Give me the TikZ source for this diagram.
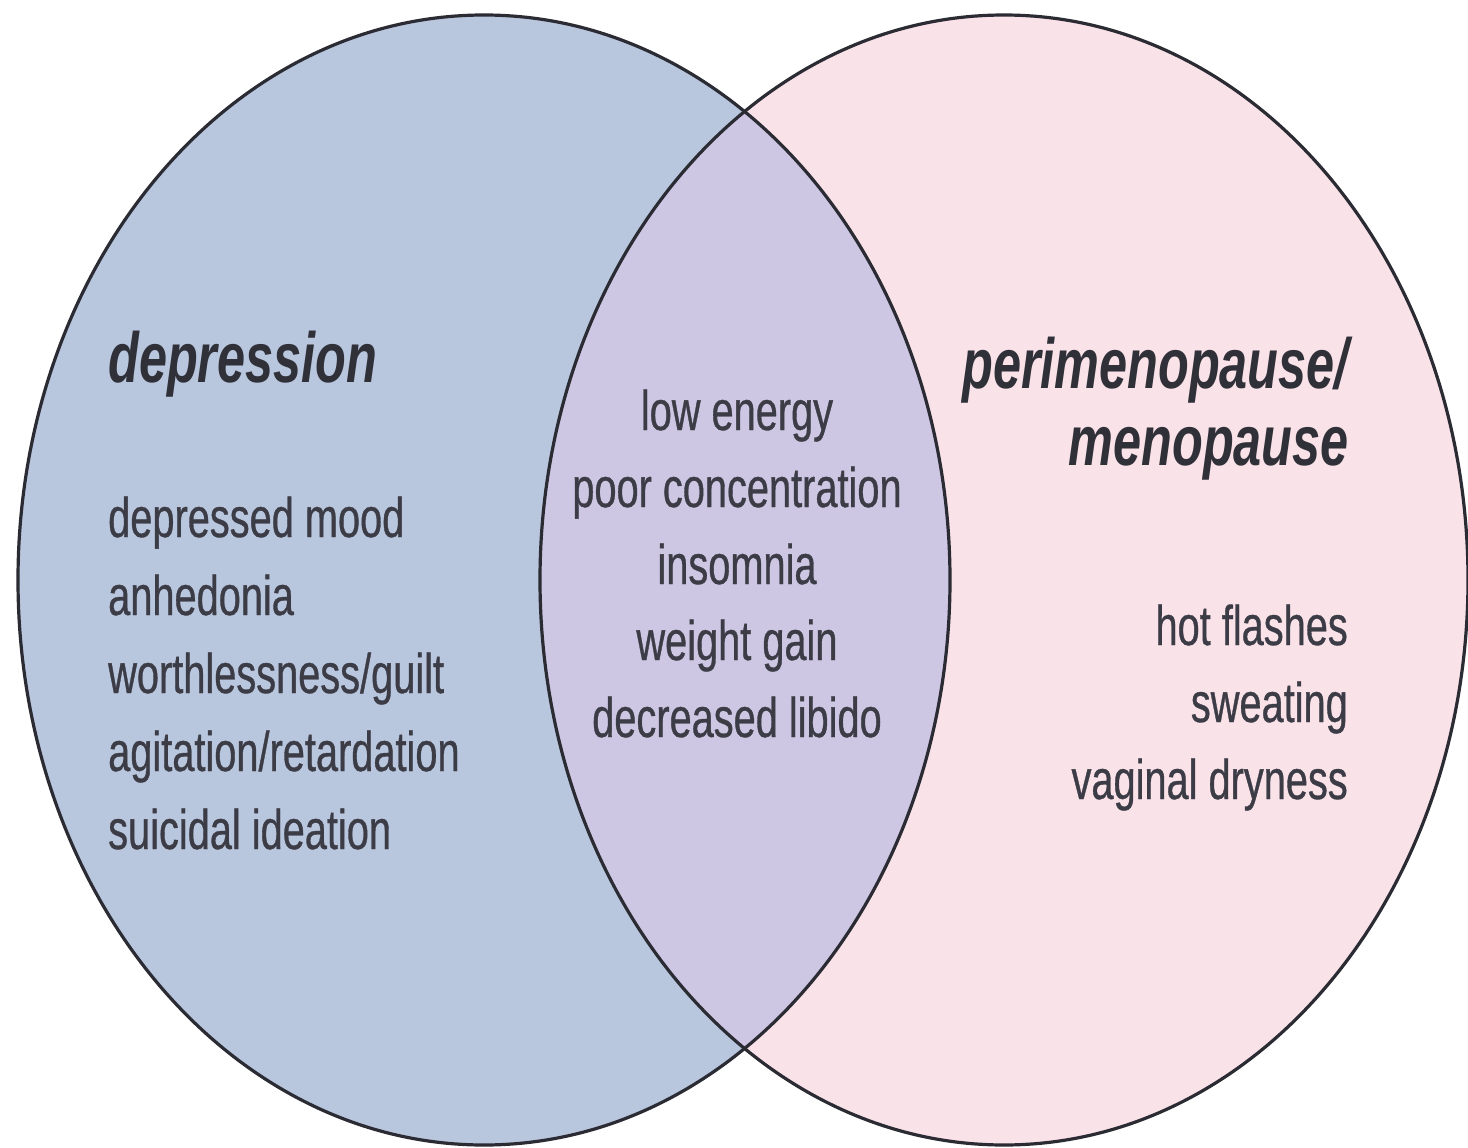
\documentclass[tikz,border=0pt]{standalone}
\usepackage{fontspec}
\setmainfont{Liberation Sans}[FakeStretch=0.71]
\newfontfamily\itemfont{Liberation Sans}[FakeStretch=0.71, FakeBold=0.6]
\definecolor{leftfill}{HTML}{B9C7DE}
\definecolor{rightfill}{HTML}{FAE2E9}
\definecolor{midfill}{HTML}{CEC7E3}
\definecolor{edge}{HTML}{2B2B33}
\definecolor{txt}{HTML}{3C3C46}
\tikzset{
  item/.style={inner sep=0pt, text=txt, font=\itemfont\fontsize{56}{56}\selectfont},
  head/.style={inner sep=0pt, text=txt!80!black, font=\fontsize{71}{71}\selectfont\bfseries\itshape},
  outline/.style={draw=edge, line width=3.2pt}
}
\begin{document}
\begin{tikzpicture}[x=1pt,y=-1pt]
\useasboundingbox (0,0) rectangle (1468,1148);
\fill[white] (0,0) rectangle (1468,1148);
% fills
\fill[leftfill] (484,580) ellipse [x radius=466, y radius=565];
\fill[rightfill] (1004,580) ellipse [x radius=464, y radius=565];
\begin{scope}
  \clip (484,580) ellipse [x radius=466, y radius=565];
  \fill[midfill] (1004,580) ellipse [x radius=464, y radius=565];
\end{scope}
% outlines
\draw[outline] (484,580) ellipse [x radius=466, y radius=565];
\draw[outline] (1004,580) ellipse [x radius=464, y radius=565];
% left set
\node[head, anchor=base west] (dep) at (108,382) {depression};
\node[item, anchor=base west] (l1) at (108,537) {depressed mood};
\node[item, anchor=base west] (l2) at (108,615) {anhedonia};
\node[item, anchor=base west] (l3) at (108,693) {worthlessness/guilt};
\node[item, anchor=base west] (l4) at (108,771) {agitation/retardation};
\node[item, anchor=base west] (l5) at (108,849) {suicidal ideation};
% middle
\node[item, anchor=base] (m1) at (737,430) {low energy};
\node[item, anchor=base] (m2) at (737,507) {poor concentration};
\node[item, anchor=base] (m3) at (737,584) {insomnia};
\node[item, anchor=base] (m4) at (737,660) {weight gain};
\node[item, anchor=base] (m5) at (737,737) {decreased libido};
% right set
\node[head, anchor=base east] (peri) at (1349,388) {perimenopause/};
\node[head, anchor=base east] (meno) at (1349,465) {menopause};
\node[item, anchor=base east] (r1) at (1348,645) {hot flashes};
\node[item, anchor=base east] (r2) at (1348,722) {sweating};
\node[item, anchor=base east] (r3) at (1348,799) {vaginal dryness};
\end{tikzpicture}
\end{document}
